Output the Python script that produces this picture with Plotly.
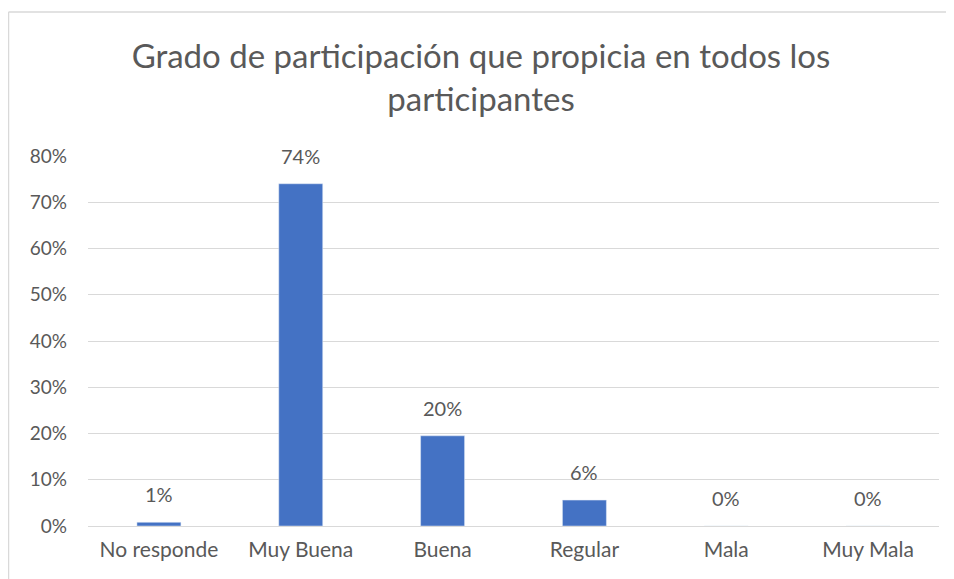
import plotly.graph_objects as go

categories = ["No responde", "Muy Buena", "Buena", "Regular", "Mala", "Muy Mala"]
values = [0.008, 0.74, 0.195, 0.056, 0.0, 0.0]
labels = ["1%", "74%", "20%", "6%", "0%", "0%"]
tick_vals = [0, 0.1, 0.2, 0.3, 0.4, 0.5, 0.6, 0.7, 0.8]
tick_text = ["0%", "10%", "20%", "30%", "40%", "50%", "60%", "70%", "80%"]

OFF = 8  # page body margin
W, H = 954 - OFF, 579 - OFF
L, T = 88 - OFF, 156 - OFF
R = W - (939 - OFF)
B = H - (526 - OFF)
pw, ph = W - L - R, H - T - B

font = "Lato, 'Open Sans', sans-serif"
grey = "#595959"
border = "#d9d9d9"

fig = go.Figure(go.Bar(
    x=categories, y=values,
    marker=dict(color="#4472C4"),
))

for c, v, t in zip(categories, values, labels):
    fig.add_annotation(
        x=c, y=v, text=t, showarrow=False, yanchor="middle", yshift=28,
        font=dict(size=20, color=grey, family=font),
    )

fig.update_layout(
    width=W, height=H,
    margin=dict(l=L, r=R, t=T, b=B),
    paper_bgcolor="white", plot_bgcolor="white",
    bargap=0.69,
    showlegend=False,
    title=dict(
        text="Grado de participación que propicia en todos los<br>participantes",
        x=0.5, xanchor="center", y=1 - (68 - OFF) / H, yanchor="middle",
        font=dict(size=33, color=grey, family=font),
    ),
    xaxis=dict(
        showgrid=False, showline=True, linecolor=border, linewidth=1,
        tickfont=dict(size=21, color=grey, family=font), ticks="",
        ticklabelstandoff=5,
    ),
    yaxis=dict(
        range=[0, 0.8], tickvals=tick_vals, ticktext=tick_text,
        showgrid=True, gridcolor=border, gridwidth=1, zeroline=False,
        tickfont=dict(size=19, color=grey, family=font), ticks="",
        ticklabelstandoff=20,
    ),
    shapes=[
        dict(type="line", xref="paper", yref="paper",
             x0=(0.5 - L) / pw, x1=(W - L) / pw,
             y0=(526 - 12) / ph, y1=(526 - 12) / ph,
             line=dict(color=border, width=1.5), layer="below"),
        dict(type="line", xref="paper", yref="paper",
             x0=(0.5 - L) / pw, x1=(0.5 - L) / pw,
             y0=(526 - 12) / ph, y1=(526 - 579) / ph,
             line=dict(color=border, width=1.5), layer="below"),
    ],
)

fig.write_html("out.html")
